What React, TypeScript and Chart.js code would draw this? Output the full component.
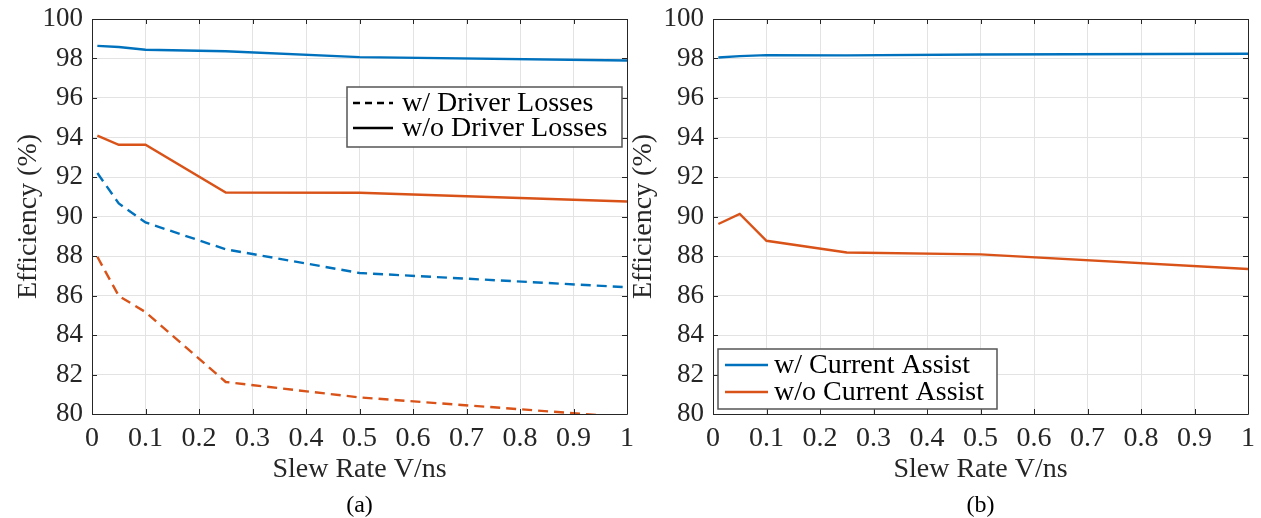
import React, { useEffect, useRef } from "react";
import { Chart, registerables } from "chart.js";

Chart.register(...registerables);

// ---- data ----
const slewRates = [0.01, 0.05, 0.1, 0.25, 0.5, 1];
const aBlueWithDriver = [92.2, 90.66, 89.7, 88.34, 87.14, 86.42];
const aOrangeWithDriver = [87.96, 85.98, 85.16, 81.62, 80.84, 79.84];
const aBlueWithoutDriver = [98.64, 98.58, 98.44, 98.37, 98.07, 97.9];
const aOrangeWithoutDriver = [94.09, 93.63, 93.63, 91.21, 91.2, 90.76];
const bBlueAssist = [98.05, 98.12, 98.17, 98.16, 98.2, 98.24];
const bOrangeNoAssist = [89.62, 90.13, 88.77, 88.18, 88.08, 87.34];
const xTickValues = [0, 0.1, 0.2, 0.3, 0.4, 0.5, 0.6, 0.7, 0.8, 0.9, 1];
const yTickValues = [80, 82, 84, 86, 88, 90, 92, 94, 96, 98, 100];
const legendA = ["w/ Driver Losses", "w/o Driver Losses"];
const legendB = ["w/ Current Assist", "w/o Current Assist"];

const BLUE = "#0072BD";
const ORANGE = "#D95319";
const TEXT = "#262626";
const FONT = "'Liberation Serif', 'Times New Roman', serif";

type Series = { data: number[]; color: string; dash: number[] };
type LegendSpec = {
  box: [number, number, number, number];
  sampleX: [number, number];
  textX: number;
  rowsY: number[];
  items: { label: string; color: string; dash: number[] }[];
};

const framePlugin = {
  id: "frame",
  afterDraw(chart: any, _args: any, opts: any) {
    const { ctx, chartArea } = chart;
    const { left, right, top, bottom } = chartArea;
    const xs = chart.scales.x;
    const ys = chart.scales.y;
    ctx.save();
    ctx.strokeStyle = TEXT;
    ctx.lineWidth = 1;
    ctx.beginPath();
    ctx.rect(Math.round(left) + 0.5, Math.round(top) + 0.5, Math.round(right - left), Math.round(bottom - top));
    ctx.stroke();
    const tl = 5;
    ctx.beginPath();
    xTickValues.forEach((v) => {
      const px = Math.round(xs.getPixelForValue(v)) + 0.5;
      ctx.moveTo(px, bottom);
      ctx.lineTo(px, bottom - tl);
      ctx.moveTo(px, top);
      ctx.lineTo(px, top + tl);
    });
    yTickValues.forEach((v) => {
      const py = Math.round(ys.getPixelForValue(v)) + 0.5;
      ctx.moveTo(left, py);
      ctx.lineTo(left + tl, py);
      ctx.moveTo(right, py);
      ctx.lineTo(right - tl, py);
    });
    ctx.stroke();

    // legend
    const lg: LegendSpec = opts.legend;
    if (lg) {
      const [x1, y1, x2, y2] = lg.box;
      ctx.fillStyle = "#ffffff";
      ctx.fillRect(x1, y1, x2 - x1, y2 - y1);
      ctx.strokeStyle = "#555555";
      ctx.lineWidth = 1.5;
      ctx.strokeRect(x1, y1, x2 - x1, y2 - y1);
      ctx.font = `28px ${FONT}`;
      ctx.textBaseline = "middle";
      ctx.textAlign = "left";
      lg.items.forEach((it, i) => {
        const y = lg.rowsY[i];
        ctx.strokeStyle = it.color;
        ctx.lineWidth = 2.4;
        ctx.setLineDash(it.dash);
        ctx.beginPath();
        ctx.moveTo(lg.sampleX[0], y);
        ctx.lineTo(lg.sampleX[1], y);
        ctx.stroke();
        ctx.setLineDash([]);
        ctx.fillStyle = "#000000";
        ctx.fillText(it.label, lg.textX, y + 1);
      });
    }

    // caption
    ctx.font = `24px ${FONT}`;
    ctx.fillStyle = "#000000";
    ctx.textAlign = "center";
    ctx.textBaseline = "middle";
    ctx.fillText(opts.caption, (left + right) / 2, 506);
    ctx.restore();
  },
};

function Panel(props: {
  left: number;
  series: Series[];
  legend: LegendSpec;
  caption: string;
  yTitlePad: number;
  padRight: number;
}) {
  const ref = useRef<HTMLCanvasElement | null>(null);
  useEffect(() => {
    if (!ref.current) return;
    const chart = new Chart(ref.current, {
      type: "line",
      data: {
        datasets: props.series.map((s) => ({
          data: slewRates.map((x, i) => ({ x, y: s.data[i] })),
          borderColor: s.color,
          backgroundColor: s.color,
          borderWidth: 2.4,
          borderDash: s.dash,
          pointRadius: 0,
          tension: 0,
          fill: false,
          clip: 0,
        })),
      },
      options: {
        responsive: false,
        animation: false,
        events: [],
        layout: { padding: { top: 19, right: props.padRight, bottom: 0, left: 0 } },
        plugins: {
          legend: { display: false },
          tooltip: { enabled: false },
          frame: { legend: props.legend, caption: props.caption },
        } as any,
        scales: {
          x: {
            type: "linear",
            min: 0,
            max: 1,
            afterFit: (s: any) => {
              s.height = 104;
              s.paddingLeft = 0;
              s.paddingRight = 0;
            },
            afterBuildTicks: (s: any) => {
              s.ticks = xTickValues.map((v) => ({ value: v }));
            },
            ticks: {
              autoSkip: false,
              maxRotation: 0,
              padding: 8,
              color: TEXT,
              font: { family: FONT, size: 28 },
              callback: (v: any) => String(Number(Number(v).toFixed(1))),
            },
            grid: { color: "#e3e3e3", lineWidth: 1, drawTicks: false },
            border: { display: false },
            title: {
              display: true,
              text: "Slew Rate V/ns",
              color: TEXT,
              font: { family: FONT, size: 28 },
              padding: { top: 0, bottom: 32 },
            },
          },
          y: {
            type: "linear",
            min: 80,
            max: 100,
            afterFit: (s: any) => {
              s.width = 92;
              s.paddingTop = 0;
              s.paddingBottom = 0;
            },
            afterBuildTicks: (s: any) => {
              s.ticks = yTickValues.map((v) => ({ value: v }));
            },
            ticks: {
              autoSkip: false,
              padding: 9,
              color: TEXT,
              font: { family: FONT, size: 27 },
              callback: (v: any) => String(v),
            },
            grid: { color: "#e3e3e3", lineWidth: 1, drawTicks: false },
            border: { display: false },
            title: {
              display: true,
              text: "Efficiency (%)",
              color: TEXT,
              font: { family: FONT, size: 28 },
              padding: { top: props.yTitlePad, bottom: 0 },
            },
          },
        },
      },
      plugins: [framePlugin],
    } as any);
    return () => chart.destroy();
  }, []);
  return (
    <canvas
      ref={ref}
      width={640}
      height={518}
      style={{ position: "absolute", left: props.left, top: 0, width: 640, height: 518, display: "block" }}
    />
  );
}

export default function App() {
  const seriesA: Series[] = [
    { data: aBlueWithoutDriver, color: BLUE, dash: [] },
    { data: aOrangeWithoutDriver, color: ORANGE, dash: [] },
    { data: aBlueWithDriver, color: BLUE, dash: [10, 6] },
    { data: aOrangeWithDriver, color: ORANGE, dash: [10, 6] },
  ];
  const seriesB: Series[] = [
    { data: bBlueAssist, color: BLUE, dash: [] },
    { data: bOrangeNoAssist, color: ORANGE, dash: [] },
  ];
  const legA: LegendSpec = {
    box: [347, 87, 622, 147],
    sampleX: [353, 393],
    textX: 402,
    rowsY: [103, 128],
    items: [
      { label: legendA[0], color: "#000000", dash: [7, 5] },
      { label: legendA[1], color: "#000000", dash: [] },
    ],
  };
  const legB: LegendSpec = {
    box: [97, 349, 376, 409],
    sampleX: [104, 147],
    textX: 153,
    rowsY: [365, 392],
    items: [
      { label: legendB[0], color: BLUE, dash: [] },
      { label: legendB[1], color: ORANGE, dash: [] },
    ],
  };
  return (
    <div style={{ position: "absolute", left: 0, top: 0, width: 1261, height: 518, background: "#fff" }}>
      <Panel left={0} series={seriesA} legend={legA} caption="(a)" yTitlePad={12} padRight={13} />
      <Panel left={621} series={seriesB} legend={legB} caption="(b)" yTitlePad={6} padRight={13} />
    </div>
  );
}
